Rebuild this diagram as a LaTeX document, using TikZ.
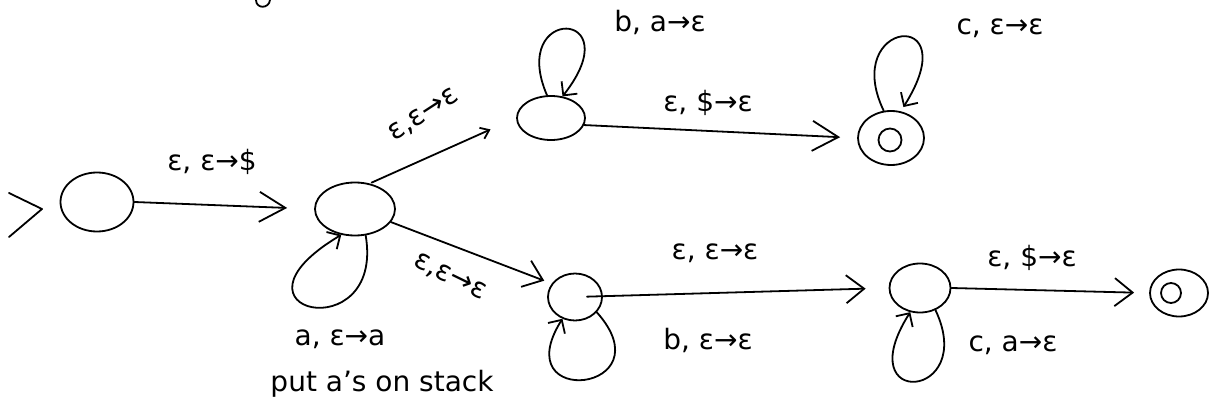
\documentclass[tikz,border=0pt]{standalone}
\usepackage{fontspec}
\setmainfont{DejaVu Sans}
\usetikzlibrary{arrows.meta,shapes.geometric}
\tikzset{
  st/.style={draw,ellipse,line width=1.8pt,inner sep=0pt},
  inr/.style={draw,circle,line width=1.8pt,inner sep=0pt},
  ln/.style={line width=1.8pt,line cap=round,line join=round},
  bigarr/.style={ln,-{Straight Barb[length=26pt,width=30pt]}},
  midarr/.style={ln,-{Straight Barb[length=18pt,width=28pt]}},
  smallarr/.style={ln,-{Straight Barb[length=8pt,width=12pt]}},
  looparr/.style={ln,-{Straight Barb[length=10pt,width=20pt]}},
  lbl/.style={font=\fontsize{28}{32}\selectfont,inner sep=0pt},
}
\begin{document}
\begin{tikzpicture}[x=1pt,y=1pt]
\useasboundingbox (0,0) rectangle (1209,-414);
% states
\node[st,minimum width=73pt,minimum height=59pt] (q0) at (97,-202) {};
\node[st,minimum width=80pt,minimum height=53pt] (q1) at (355,-209) {};
\node[st,minimum width=68pt,minimum height=44pt] (q2) at (551,-118) {};
\node[st,minimum width=66pt,minimum height=54pt] (q3) at (891,-138) {};
\node[inr,minimum size=23pt] (q3i) at (890,-140) {};
\node[st,minimum width=54pt,minimum height=47pt] (q4) at (575,-297) {};
\node[st,minimum width=61pt,minimum height=49pt] (q5) at (920,-288) {};
\node[st,minimum width=58pt,minimum height=47pt] (q6) at (1179,-293) {};
\node[inr,minimum size=20pt] (q6i) at (1171,-293) {};
% start marker
\coordinate (s1) at (9,-193);
\coordinate (s2) at (42,-209);
\coordinate (s3) at (9,-237);
\draw[ln] (s1) -- (s2) -- (s3);
% cropped mark at top
\draw[ln] (256,0) .. controls (256,-9) and (269,-9) .. (270,0);
% transitions
\draw[bigarr,shorten >=27pt] (q0.east) -- (q1.west);
\draw[smallarr,shorten <=2pt,shorten >=28pt] (q1.60) -- (q2.west);
\draw[midarr,shorten >=8pt] (q1.-20) -- (q4.150);
\draw[bigarr,shorten >=17pt] (q2.-12) -- (q3.west);
\draw[midarr,shorten <=12pt,shorten >=23pt] (q4.center) -- (q5.west);
\draw[midarr,shorten >=15pt] (q5.east) -- (q6.west);
% loops
\draw[looparr] (q1.-68) .. controls (385,-350) and (212,-312) .. (q1.-118);
\draw[looparr] (q2.100) .. controls (508,-5) and (632,-8) .. (q2.62);
\draw[looparr,shorten >=5pt] (q3.105) .. controls (840,-20) and (968,-5) .. (q3.70);
\draw[looparr] (q4.-35) .. controls (668,-392) and (505,-410) .. (q4.-120);
\draw[looparr] (q5.-55) .. controls (978,-400) and (848,-410) .. (q5.-112);
% labels
\node[lbl] (l01) at (212,-162) {ε, ε→\$};
\node[lbl,rotate=33] (l12) at (424,-115) {ε,ε→ε};
\node[lbl] (l22) at (660,-22) {b, a→ε};
\node[lbl] (l23) at (708,-103) {ε, \$→ε};
\node[lbl] (l33) at (1000,-28) {c, ε→ε};
\node[lbl,rotate=-26] (l14) at (450,-277) {ε,ε→ε};
\node[lbl] (l45) at (715,-253) {ε, ε→ε};
\node[lbl] (l44) at (708,-340) {b, ε→ε};
\node[lbl] (l56) at (1032,-258) {ε, \$→ε};
\node[lbl] (l55) at (1013,-345) {c, a→ε};
\node[lbl] (l11) at (340,-339) {a, ε→a};
\node[lbl] (l11b) at (382,-384) {put a's on stack};
\end{tikzpicture}
\end{document}
